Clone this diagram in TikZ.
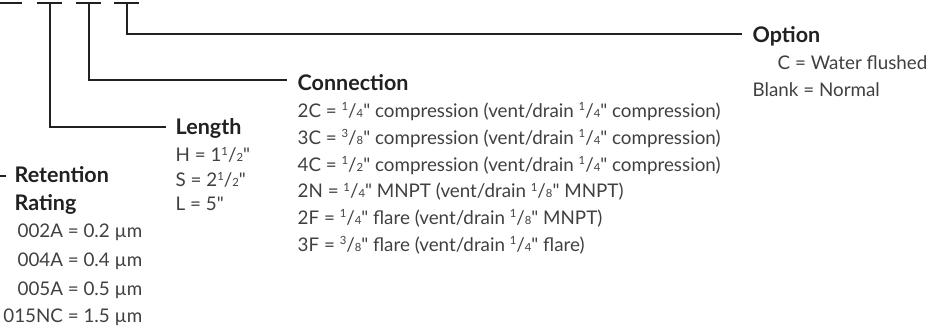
\documentclass[tikz,border=0pt]{standalone}
\usepackage{fontspec}
\setmainfont{Lato}[Ligatures=TeXOff]
\usepackage{xcolor}
\usepackage{tikz}
\usetikzlibrary{positioning, calc}
\definecolor{inkgrey}{rgb}{0.25,0.25,0.25}
\definecolor{headgrey}{rgb}{0.13,0.13,0.13}
\newcommand{\fr}[2]{\raisebox{.36em}{\scalebox{.6}{#1}}/\scalebox{.6}{#2}}

\begin{document}
\begin{tikzpicture}[x=1pt, y=-1pt, line width=1.4pt, draw=headgrey,
		every node/.style={inner sep=0pt, text=inkgrey},
		head/.style={anchor=base west, font=\fontsize{21.5}{26}\selectfont\bfseries, text=headgrey},
		item/.style={anchor=base west, font=\fontsize{18.8}{22}\selectfont},
		itemr/.style={anchor=base east, font=\fontsize{18.8}{22}\selectfont}]
		\useasboundingbox (0,0) rectangle (951,331);
		
		% bars across the top
		\foreach \bl/\br in {-3/22, 37/62, 76/101, 114/139}
			\draw (\bl,3) -- (\br,3);
		\coordinate (tlen) at (50,3);
		\coordinate (tcon) at (89,3);
		\coordinate (topt) at (127,3);
		\coordinate (tret) at (-2,176);
		
		% headings
		\node[head] (opt) at (752,43) {Option};
		\node[head] (con) at (297,91) {Connection};
		\node[head] (len) at (175,135) {Length};
		\node[head] (ret) at (14,183) {Retention};
		\node[head] (rat) at (14,211) {Rating};
		
		\draw (topt) |- ([xshift=-10pt,yshift=9pt]opt.base west);
		\draw (tcon) |- ([xshift=-10pt,yshift=11pt]con.base west);
		\draw (tlen) |- ([xshift=-9pt,yshift=8pt]len.base west);
		\draw (tret) -- ([xshift=-8pt,yshift=7pt]ret.base west);
		
		% option
		\node[item] (opt1) at (777,70) {C = Water flushed};
		\node[item] (opt2) at (752,97) {Blank = Normal};
		
		% connection
		\foreach \k/\txt in {0/{2C = \fr14" compression (vent/drain \fr14" compression)},
			1/{3C = \fr38" compression (vent/drain \fr14" compression)},
			2/{4C = \fr12" compression (vent/drain \fr14" compression)},
			3/{2N = \fr14" MNPT (vent/drain \fr18" MNPT)},
			4/{2F = \fr14" flare (vent/drain \fr18" MNPT)},
			5/{3F = \fr38" flare (vent/drain \fr14" flare)}}
			\node[item] (con\k) at (297,117.5+26.8*\k) {\txt};
		
		% length
		\node[item] (len1) at (175,162) {H = 1\fr12"};
		\node[item] (len2) at (175,187) {S = 2\fr12"};
		\node[item] (len3) at (175,211) {L = 5"};
		
		% retention rating
		\node[itemr] (ret1) at (143,238) {002A = 0.2 µm};
		\node[itemr] (ret2) at (143,266.5) {004A = 0.4 µm};
		\node[itemr] (ret3) at (143,295) {005A = 0.5 µm};
		\node[itemr] (ret4) at (143,323) {015NC = 1.5 µm};
\end{tikzpicture}
\end{document}
